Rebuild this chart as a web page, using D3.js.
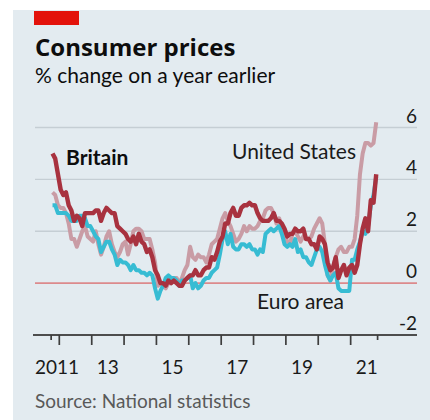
<!DOCTYPE html>
<html>
<head>
<meta charset="utf-8">
<script src="https://cdn.jsdelivr.net/npm/d3@7"></script>
<style>
  html, body { margin: 0; padding: 0; background: #fff; }
  svg { display: block; }
  text { font-family: Lato, "Noto Sans", sans-serif; }
</style>
</head>
<body>
<svg id="chart" width="430" height="420"></svg>
<script>
// Monthly year-on-year % change, Oct 2011 – Oct 2021
const startMonth = "2011-10";
const britain = [
  5.0, 4.8, 4.2,
  3.6, 3.4, 3.5, 3.0, 2.8, 2.4, 2.6, 2.5, 2.2, 2.7, 2.7, 2.7,
  2.7, 2.8, 2.8, 2.4, 2.7, 2.9, 2.8, 2.7, 2.7, 2.2, 2.1, 2.0,
  1.9, 1.7, 1.6, 1.8, 1.5, 1.9, 1.6, 1.5, 1.2, 1.3, 1.0, 0.5,
  0.3, 0.0, 0.0, -0.1, 0.1, 0.0, 0.1, 0.0, -0.1, -0.1, 0.1, 0.2,
  0.3, 0.3, 0.5, 0.3, 0.3, 0.5, 0.6, 0.6, 1.0, 0.9, 1.2, 1.6,
  1.8, 2.3, 2.3, 2.7, 2.9, 2.6, 2.6, 2.9, 3.0, 3.0, 3.1, 3.0,
  3.0, 2.7, 2.5, 2.4, 2.4, 2.4, 2.5, 2.7, 2.4, 2.4, 2.3, 2.1,
  1.8, 1.9, 1.9, 2.1, 2.0, 2.0, 2.1, 1.7, 1.7, 1.5, 1.5, 1.3,
  1.8, 1.7, 1.5, 0.8, 0.5, 0.6, 1.0, 0.2, 0.5, 0.7, 0.3, 0.6,
  0.7, 0.4, 0.7, 1.5, 2.1, 2.5, 2.0, 3.2, 3.1, 4.2
];
const unitedStates = [
  3.5, 3.4, 3.0,
  2.9, 2.9, 2.7, 2.3, 1.7, 1.7, 1.4, 1.7, 2.0, 2.2, 1.8, 1.7,
  1.6, 2.0, 1.5, 1.1, 1.4, 1.8, 2.0, 1.5, 1.2, 1.0, 1.2, 1.5,
  1.6, 1.1, 1.5, 2.0, 2.1, 2.1, 2.0, 1.7, 1.7, 1.7, 1.3, 0.8,
  -0.1, 0.0, -0.1, -0.2, 0.0, 0.1, 0.2, 0.2, 0.0, 0.2, 0.5, 0.7,
  1.4, 1.0, 0.9, 1.1, 1.0, 1.0, 0.8, 1.1, 1.5, 1.6, 1.7, 2.1,
  2.5, 2.7, 2.4, 2.2, 1.9, 1.6, 1.7, 1.9, 2.2, 2.0, 2.2, 2.1,
  2.1, 2.2, 2.4, 2.5, 2.8, 2.9, 2.9, 2.7, 2.3, 2.5, 2.2, 1.9,
  1.6, 1.5, 1.9, 2.0, 1.8, 1.6, 1.8, 1.7, 1.7, 1.8, 2.1, 2.3,
  2.5, 2.3, 1.5, 0.3, 0.1, 0.6, 1.0, 1.3, 1.4, 1.2, 1.2, 1.4,
  1.4, 1.7, 2.6, 4.2, 5.0, 5.4, 5.4, 5.3, 5.4, 6.2
];
const euroArea = [
  3.0, 3.0, 2.7,
  2.7, 2.7, 2.7, 2.6, 2.4, 2.4, 2.4, 2.6, 2.6, 2.5, 2.2, 2.2,
  2.0, 1.8, 1.7, 1.2, 1.4, 1.6, 1.6, 1.3, 1.1, 0.7, 0.9, 0.8,
  0.8, 0.7, 0.5, 0.7, 0.5, 0.5, 0.4, 0.4, 0.3, 0.4, 0.3, -0.2,
  -0.6, -0.3, -0.1, 0.2, 0.3, 0.2, 0.2, 0.1, -0.1, 0.1, 0.1, 0.2,
  0.3, -0.2, 0.0, -0.2, -0.1, 0.1, 0.2, 0.2, 0.4, 0.5, 0.6, 1.1,
  1.7, 2.0, 1.5, 1.9, 1.4, 1.3, 1.3, 1.5, 1.5, 1.4, 1.5, 1.3,
  1.3, 1.1, 1.3, 1.2, 1.9, 2.0, 2.1, 2.0, 2.1, 2.2, 1.9, 1.5,
  1.4, 1.5, 1.4, 1.7, 1.2, 1.3, 1.0, 1.0, 0.8, 0.7, 1.0, 1.3,
  1.4, 1.2, 0.7, 0.3, 0.1, 0.3, 0.4, -0.2, -0.3, -0.3, -0.3, -0.3,
  0.9, 0.9, 1.3, 1.6, 2.0, 1.9, 2.2, 3.0, 3.4, 4.1
];
const yTicks = [-2, 0, 2, 4, 6];
const yearLabels = ["2011", "13", "15", "17", "19", "21"];
const yearLabelYears = [2011, 2013, 2015, 2017, 2019, 2021];
const tickYears = [2012, 2013, 2014, 2015, 2016, 2017, 2018, 2019, 2020, 2021];

const colors = { britain: "#a8323f", us: "#c99ca5", euro: "#37bcd3" };

const svg = d3.select("#chart");
svg.append("rect").attr("x", 13).attr("y", 10).attr("width", 417).attr("height", 410).attr("fill", "#e3ebf0");
svg.append("rect").attr("x", 34).attr("y", 11).attr("width", 45).attr("height", 14).attr("fill", "#e3120b");

svg.append("text").attr("x", 35).attr("y", 56).attr("font-size", 24).attr("font-weight", 700)
  .style("font-family", "'Open Sans', Lato, sans-serif")
  .attr("fill", "#0d0d0d").text("Consumer prices");
svg.append("text").attr("x", 35).attr("y", 83).attr("font-size", 21)
  .attr("fill", "#0d0d0d").text("% change on a year earlier");

const parse = d3.timeParse("%Y-%m");
const t0 = parse(startMonth);
const months = d3.range(britain.length).map(i => d3.timeMonth.offset(t0, i));
const mid = d => new Date(d.getTime() + (d3.timeMonth.offset(d, 1) - d) / 2);

const x = d3.scaleTime().domain([new Date(2012, 0, 1), new Date(2022, 0, 1)]).range([59.3, 383]);
const y = d3.scaleLinear().domain([-2, 6]).range([335, 127.5]);
const xLeft = 35, xRight = 417;

// gridlines
yTicks.forEach(v => {
  if (v === -2) return;
  svg.append("line").attr("x1", xLeft).attr("x2", xRight).attr("y1", y(v)).attr("y2", y(v))
    .attr("stroke", v === 0 ? "#dc8a8c" : "#c5ced4").attr("stroke-width", v === 0 ? 1.6 : 1.4);
});
// y labels
yTicks.forEach(v => {
  svg.append("text").attr("x", xRight).attr("y", y(v) - 5).attr("text-anchor", "end")
    .attr("font-size", 19).attr("fill", "#1a1a1a").text(v);
});

// lines
const line = d3.line().x((d, i) => x(mid(months[i]))).y(d => y(d)).curve(d3.curveLinear);
[[unitedStates, colors.us], [euroArea, colors.euro], [britain, colors.britain]].forEach(([vals, c]) => {
  svg.append("path").datum(vals).attr("d", line).attr("fill", "none").attr("stroke", c)
    .attr("stroke-width", c === colors.britain ? 4.4 : 4).attr("stroke-linejoin", "round").attr("stroke-linecap", "butt");
});

// x axis
svg.append("line").attr("x1", 33).attr("x2", xRight).attr("y1", y(-2)).attr("y2", y(-2))
  .attr("stroke", "#4d4d4d").attr("stroke-width", 1.8);
tickYears.forEach(yr => {
  const xx = x(new Date(yr, 0, 1));
  svg.append("line").attr("x1", xx).attr("x2", xx).attr("y1", y(-2)).attr("y2", y(-2) + 10)
    .attr("stroke", "#3d3d3d").attr("stroke-width", 1.7);
});
[months[0], d3.timeMonth.offset(months[months.length - 1], 1)].forEach(d => {
  const xx = x(d);
  svg.append("line").attr("x1", xx).attr("x2", xx).attr("y1", y(-2)).attr("y2", y(-2) + 5)
    .attr("stroke", "#3d3d3d").attr("stroke-width", 1.7);
});
yearLabels.forEach((lab, i) => {
  const yr = yearLabelYears[i];
  const first = i === 0;
  svg.append("text").attr("x", first ? 35 : x(new Date(yr, 6, 1)))
    .attr("y", 374).attr("text-anchor", first ? "start" : "middle")
    .attr("font-size", 19).attr("fill", "#1a1a1a").text(lab);
});

// series labels
svg.append("text").attr("x", 66).attr("y", 165).attr("font-size", 21).attr("font-weight", 700)
  .attr("fill", "#0d0d0d").text("Britain");
svg.append("text").attr("x", 232).attr("y", 159).attr("font-size", 21)
  .attr("fill", "#1a1a1a").text("United States");
svg.append("text").attr("x", 257).attr("y", 309).attr("font-size", 21)
  .attr("fill", "#1a1a1a").text("Euro area");

svg.append("text").attr("x", 35).attr("y", 408).attr("font-size", 19)
  .attr("fill", "#595959").text("Source: National statistics");
</script>
</body>
</html>
